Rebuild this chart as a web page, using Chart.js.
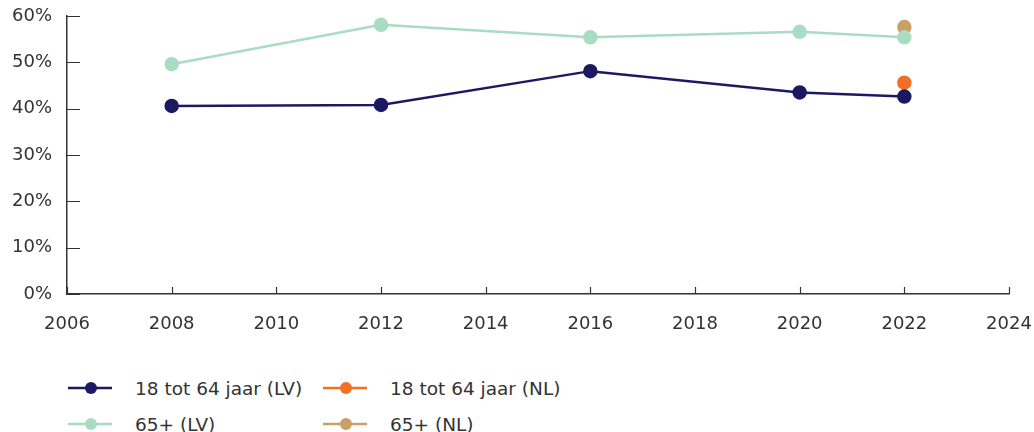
<!DOCTYPE html>
<html>
<head>
<meta charset="utf-8">
<script src="https://cdn.jsdelivr.net/npm/chart.js@4.4.1/dist/chart.umd.min.js"></script>
<style>
  body { margin: 0; background: #fff; font-family: "DejaVu Sans", sans-serif; }
  #wrap { position: relative; width: 1034px; height: 432px; overflow: hidden; }
  #c { position: absolute; left: 0; top: 0; }
  #legend { position: absolute; left: 68px; top: 378px; display: grid; grid-template-columns: 255px 300px; row-gap: 16px; font-size: 18.5px; color: #333; }
  .item { display: flex; align-items: center; height: 20px; }
  .item svg { margin-right: 23px; }
</style>
</head>
<body>
<div id="wrap">
  <canvas id="c" width="1034" height="340"></canvas>
  <div id="legend"></div>
</div>
<script>
const years = [2008, 2012, 2016, 2020, 2022];
const lv1864 = [40.6, 40.8, 48.1, 43.5, 42.6];
const lv65 = [49.6, 58.1, 55.4, 56.6, 55.4];
const nl1864 = [45.6];
const nl65 = [57.6];
const nlYears = [2022];
const yTicks = [0, 10, 20, 30, 40, 50, 60];

const seriesNames = ['18 tot 64 jaar (LV)', '18 tot 64 jaar (NL)', '65+ (LV)', '65+ (NL)'];
const colors = ['#1d1862', '#f26f26', '#a9dcc3', '#c9a068'];

function pts(xs, ys) { return xs.map((x, i) => ({ x: x, y: ys[i] })); }

const datasets = [
  { label: seriesNames[2], data: pts(years, lv65), color: colors[2] },
  { label: seriesNames[0], data: pts(years, lv1864), color: colors[0] },
  { label: seriesNames[1], data: pts(nlYears, nl1864), color: colors[1] },
  { label: seriesNames[3], data: pts(nlYears, nl65), color: colors[3] }
].map(d => ({
  label: d.label, data: d.data,
  borderColor: d.color, backgroundColor: d.color,
  pointBackgroundColor: d.color, pointBorderColor: d.color,
  pointRadius: 6, pointHoverRadius: 6, borderWidth: 2.5, tension: 0
}));

// short tick marks pointing into the plot area
const innerTicks = {
  id: 'innerTicks',
  afterDraw(chart) {
    const ctx = chart.ctx, xs = chart.scales.x, ys = chart.scales.y;
    ctx.save();
    ctx.strokeStyle = '#333';
    ctx.lineWidth = 1.2;
    ctx.beginPath();
    yTicks.forEach(v => {
      const y = Math.round(ys.getPixelForValue(v)) + 0.5;
      ctx.moveTo(xs.left, y); ctx.lineTo(xs.left + 13, y);
    });
    xs.ticks.forEach(t => {
      const x = Math.round(xs.getPixelForValue(t.value)) + 0.5;
      ctx.moveTo(x, ys.bottom); ctx.lineTo(x, ys.bottom - 7);
    });
    ctx.stroke();
    ctx.restore();
  }
};

const tickFont = { family: 'DejaVu Sans', size: 18 };

new Chart(document.getElementById('c'), {
  type: 'line',
  data: { datasets: datasets },
  options: {
    responsive: false,
    animation: false,
    layout: { padding: { top: 16, right: 25, left: 0, bottom: 0 } },
    plugins: { legend: { display: false }, tooltip: { enabled: false } },
    scales: {
      x: {
        type: 'linear', min: 2006, max: 2024,
        afterFit(s) { s.height = 46; s.paddingLeft = 0; s.paddingRight = 0; },
        grid: { display: false, drawTicks: false },
        border: { display: true, color: '#333', width: 1.5 },
        ticks: { stepSize: 2, padding: 20, color: '#333', font: tickFont,
          callback: v => String(v), maxRotation: 0 }
      },
      y: {
        min: 0, max: 60,
        afterFit(s) { s.width = 67; s.paddingTop = 0; s.paddingBottom = 0; },
        grid: { display: false, drawTicks: false },
        border: { display: true, color: '#333', width: 1.5 },
        ticks: { stepSize: 10, padding: 15, color: '#333', font: tickFont,
          callback: v => v + '%' }
      }
    }
  },
  plugins: [innerTicks]
});

// legend in two columns
const legend = document.getElementById('legend');
seriesNames.forEach((name, i) => {
  const c = colors[i];
  legend.insertAdjacentHTML('beforeend',
    '<div class="item"><svg width="44" height="14"><line x1="0" y1="7" x2="44" y2="7" stroke="' + c +
    '" stroke-width="2.5"/><circle cx="23" cy="7" r="6" fill="' + c + '"/></svg>' + name + '</div>');
});
</script>
</body>
</html>
